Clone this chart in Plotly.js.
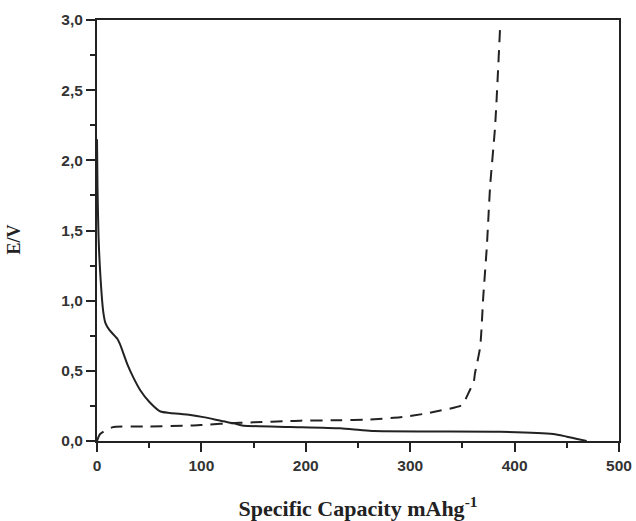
<!DOCTYPE html>
<html><head><meta charset="utf-8">
<script src="https://cdn.plot.ly/plotly-3.0.1.min.js"></script>
<style>body{margin:0;background:#fff}#c{width:636px;height:521px}</style>
</head><body><div id="c"></div>
<script>
const dischargeCap = [0, 0.5, 1.5, 3.3, 6, 8.1, 12, 19.3, 22, 28.9, 35, 41.6, 50, 60.8, 70, 89.5, 102, 121, 131, 137, 140.5, 185, 233, 252, 265, 320, 386, 437, 450, 460, 469];
const dischargeV   = [2.15, 1.8, 1.45, 1.17, 0.92, 0.84, 0.79, 0.73, 0.69, 0.55, 0.45, 0.36, 0.28, 0.21, 0.2, 0.185, 0.17, 0.14, 0.126, 0.114, 0.109, 0.10, 0.09, 0.078, 0.071, 0.068, 0.066, 0.05, 0.031, 0.015, 0];
const chargeCap = [0, 3, 14.5, 50, 89.5, 99, 137, 150, 185, 195, 233, 258.5, 290.5, 316, 329, 335, 348, 351, 357, 360.6, 362, 367, 370, 373.4, 376.6, 381.3, 386];
const chargeV   = [0, 0.05, 0.097, 0.103, 0.11, 0.114, 0.13, 0.133, 0.142, 0.145, 0.148, 0.152, 0.169, 0.197, 0.218, 0.226, 0.25, 0.269, 0.36, 0.41, 0.48, 0.67, 1.03, 1.385, 1.82, 2.24, 2.93];

const axBase = {
  showline: true, linecolor: '#222', linewidth: 2, mirror: true,
  ticks: 'outside', ticklen: 9, tickwidth: 2, tickcolor: '#222',
  showgrid: false, zeroline: false,
  tickfont: {family: 'Liberation Sans, Arial', size: 15.5, color: '#333', weight: 'bold'},
  minor: {ticks: 'outside', ticklen: 5, tickwidth: 2, tickcolor: '#222'}
};
const layout = {
  width: 636, height: 521,
  margin: {l: 96.5, r: 17, t: 20, b: 80},
  paper_bgcolor: '#fff', plot_bgcolor: '#fff',
  separators: ',.',
  showlegend: false,
  xaxis: Object.assign({}, axBase, {
    range: [0, 500], dtick: 100, tick0: 0,
    minor: Object.assign({}, axBase.minor, {dtick: 50}),
    title: {text: 'Specific Capacity mAhg<sup>-1</sup>', standoff: 28,
      font: {family: 'Liberation Serif, Times New Roman', size: 22, color: '#222', weight: 'bold'}}
  }),
  yaxis: Object.assign({}, axBase, {
    range: [0, 3], dtick: 0.5, tick0: 0, tickformat: '.1f',
    minor: Object.assign({}, axBase.minor, {dtick: 0.25})
  }),
  annotations: [{
    text: 'E/V', textangle: -90, showarrow: false,
    xref: 'paper', yref: 'paper', x: -0.16, y: 0.48, xanchor: 'center', yanchor: 'middle',
    font: {family: 'Liberation Serif, Times New Roman', size: 18, color: '#222', weight: 'bold'}
  }]
};
const traces = [
  {x: dischargeCap, y: dischargeV, mode: 'lines', line: {color: '#222', width: 2, shape: 'spline', smoothing: 0.6}},
  {x: chargeCap, y: chargeV, mode: 'lines', line: {color: '#222', width: 2, dash: '12px,8px', shape: 'spline', smoothing: 0.6}}
];
Plotly.newPlot('c', traces, layout, {displayModeBar: false, staticPlot: true});
</script></body></html>
